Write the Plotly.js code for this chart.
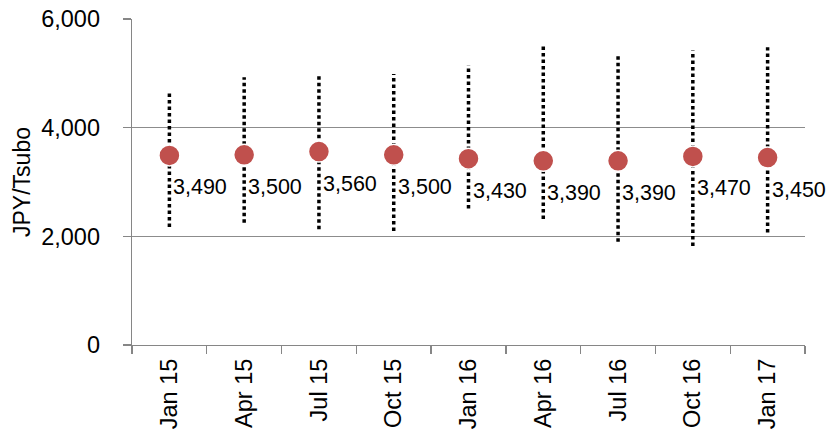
<!DOCTYPE html>
<html>
<head>
<meta charset="utf-8">
<script src="https://cdn.plot.ly/plotly-3.0.1.min.js"></script>
<style>html,body{margin:0;padding:0;background:#fff;}#chart{width:833px;height:431px;}</style>
</head>
<body>
<div id="chart"></div>
<script>
var categories = ["Jan 15","Apr 15","Jul 15","Oct 15","Jan 16","Apr 16","Jul 16","Oct 16","Jan 17"];
var averages = [3490,3500,3560,3500,3430,3390,3390,3470,3450];
var rangeHigh = [4650,4930,5000,4990,5150,5550,5370,5420,5480];
var rangeLow = [2170,2250,2130,2100,2510,2320,1900,1820,2070];
var yTicks = [0,2000,4000,6000];

var lx = [], ly = [];
for (var i = 0; i < categories.length; i++) {
  lx.push(categories[i], categories[i], null);
  ly.push(rangeLow[i], rangeHigh[i], null);
}

var traces = [
  {
    x: lx, y: ly, type: 'scatter', mode: 'lines',
    line: {color: '#000000', width: 3.5, dash: '3.5px,3px'},
    hoverinfo: 'skip', showlegend: false, connectgaps: false
  },
  {
    x: categories, y: averages, type: 'scatter', mode: 'markers',
    marker: {color: '#C0504D', size: 21, line: {color: '#ffffff', width: 1.5}},
    showlegend: false
  }
];

var annotations = categories.map(function(c, i) {
  return {
    x: c, y: averages[i], xref: 'x', yref: 'y',
    text: averages[i].toLocaleString('en-US'),
    showarrow: false, xanchor: 'left', yanchor: 'middle',
    xshift: 2, yshift: -32,
    font: {family: 'Liberation Sans, Arial, sans-serif', size: 21.5, color: '#000'}
  };
});

var layout = {
  width: 833, height: 431,
  margin: {l: 132, r: 28, t: 19, b: 86},
  paper_bgcolor: '#ffffff', plot_bgcolor: '#ffffff',
  font: {family: 'Liberation Sans, Arial, sans-serif', color: '#000'},
  showlegend: false,
  xaxis: {
    type: 'category',
    tickson: 'boundaries',
    ticks: 'outside', ticklen: 8, tickcolor: '#868686', tickwidth: 1.3,
    showline: true, linecolor: '#868686', linewidth: 1.3,
    showgrid: false, zeroline: false,
    tickangle: -90,
    tickfont: {size: 23.5, color: '#000'},
    ticklabelstandoff: 3,
    range: [-0.5, 8.5]
  },
  yaxis: {
    range: [0, 6000],
    tickvals: yTicks,
    tickformat: ',',
    ticks: 'outside', ticklen: 8, tickcolor: '#868686', tickwidth: 1.3,
    showline: true, linecolor: '#868686', linewidth: 1.3,
    showgrid: true, gridcolor: '#8c8c8c', gridwidth: 1.3,
    zeroline: false,
    tickfont: {size: 23.5, color: '#000'},
    ticklabelstandoff: 18,
    title: {text: 'JPY/Tsubo', font: {size: 23, color: '#000'}, standoff: 4}
  },
  annotations: annotations
};

Plotly.newPlot('chart', traces, layout, {displayModeBar: false, staticPlot: true});
</script>
</body>
</html>
